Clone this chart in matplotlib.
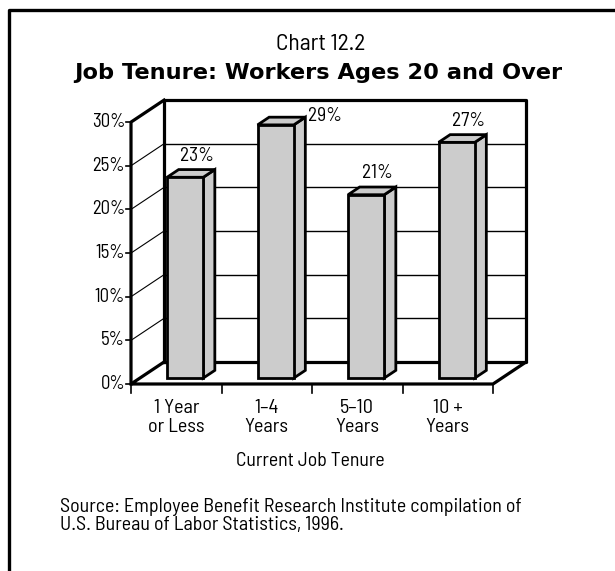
import matplotlib
matplotlib.use("Agg")
import matplotlib.pyplot as plt
from matplotlib.patches import Polygon
from matplotlib.lines import Line2D

# data
categories = ["1 Year\nor Less", "1\u20134\nYears", "5\u201310\nYears", "10 +\nYears"]
values = [23, 29, 21, 27]
yticks = [0, 5, 10, 15, 20, 25, 30]
ytick_labels = ["0%", "5%", "10%", "15%", "20%", "25%", "30%"]

plt.rcParams["font.family"] = ["Barlow Semi Condensed", "DejaVu Sans"]

W, H = 615, 571
fig = plt.figure(figsize=(W / 100, H / 100), dpi=100)

# axes box in pixels (x from 0..4.5 categories, y from -3..35 %)
x0, ux = 131, 90.5
y0, uy = 384, 8.73
xmin, xmax, ymin, ymax = -0.1, 4.5, -3, 35
left = x0 + xmin * ux
right = x0 + xmax * ux
top = y0 - ymax * uy
bot = y0 - ymin * uy
ax = fig.add_axes([left / W, 1 - bot / H, (right - left) / W, (bot - top) / H])
ax.set_xlim(xmin, xmax)
ax.set_ylim(ymin, ymax)
ax.axis("off")

DX, DY = 0.365, 2.52   # depth offset of the floor / walls
n = len(values)
ymax_wall = 30
thick = 2.3

# back wall gridlines and side wall lines
for v in yticks[1:-1]:
    ax.plot([DX, n + DX], [v + DY, v + DY], color="black", lw=1.0, zorder=1)
    ax.plot([0, DX], [v, v + DY], color="black", lw=0.8, zorder=1)

# back wall frame
ax.plot([DX, DX, n + DX, n + DX, DX], [DY, ymax_wall + DY, ymax_wall + DY, DY, DY],
        color="black", lw=thick, zorder=2, solid_capstyle="projecting")
# front y axis and top diagonal
ax.plot([DX, 0, 0], [ymax_wall + DY, ymax_wall, 0], color="black", lw=thick, zorder=2)
# floor
ax.plot([DX, 0, n, n + DX], [DY, 0, 0, DY], color="black", lw=thick, zorder=2)

# y ticks
for v, lab in zip(yticks, ytick_labels):
    ax.plot([-0.06, 0], [v, v], color="black", lw=1.2, zorder=2)
    ax.text(-0.065, v, lab, ha="right", va="center", fontsize=13.5)

# x ticks
for i in range(n + 1):
    ax.plot([i, i], [0, -1.0], color="black", lw=1.2, zorder=2)
for i, lab in enumerate(categories):
    ax.text(i + 0.5, -1.75, lab, ha="center", va="top", fontsize=14.5, linespacing=1.08)

# bars
f1, f2 = 0.27, 0.62
bw = 0.4
face = "#cccccc"
for i, v in enumerate(values):
    xl = i + 0.5 - bw / 2 + f1 * DX
    xr = xl + bw
    yb = f1 * DY
    yt = v + f1 * DY
    ddx = (f2 - f1) * DX
    ddy = (f2 - f1) * DY
    front = Polygon([(xl, yb), (xr, yb), (xr, yt), (xl, yt)], closed=True,
                    facecolor=face, edgecolor="black", lw=2.0, zorder=5)
    side = Polygon([(xr, yb), (xr + ddx, yb + ddy), (xr + ddx, yt + ddy), (xr, yt)], closed=True,
                   facecolor=face, edgecolor="black", lw=2.0, zorder=4)
    topf = Polygon([(xl, yt), (xr, yt), (xr + ddx, yt + ddy), (xl + ddx, yt + ddy)], closed=True,
                   facecolor=face, edgecolor="black", lw=2.0, zorder=4)
    for p in (side, topf, front):
        ax.add_patch(p)
    label = "%d%%" % v
    # the tallest bar gets its label beside the top, as in the original
    if v + f2 * DY + 1.6 > ymax_wall + DY - 1:
        ax.text(xr + ddx + 0.03, yt + ddy + 0.1, label, ha="left", va="center", fontsize=14)
    else:
        ax.text(i + 0.5 + f2 * DX, yt + ddy + 1.6, label, ha="center", va="center", fontsize=14)

# titles and notes
fig.text(321 / W, 1 - 44 / H, "Chart 12.2", ha="center", va="center", fontsize=17)
fig.text(318 / W, 1 - 73 / H, "Job Tenure: Workers Ages 20 and Over", ha="center", va="center",
         fontsize=16.2, fontweight="bold", family="DejaVu Sans")
fig.text(310 / W, 1 - 461 / H, "Current Job Tenure", ha="center", va="center", fontsize=14.3)
fig.text(60 / W, 1 - 516 / H,
         "Source: Employee Benefit Research Institute compilation of\nU.S. Bureau of Labor Statistics, 1996.",
         ha="left", va="center", fontsize=14.4, linespacing=1.0)

# page border (top and left)
fig.add_artist(Line2D([9 / W, 9 / W, 1], [0, 1 - 10 / H, 1 - 10 / H], color="black", lw=2.4,
                      transform=fig.transFigure))

fig.savefig("out.png", dpi=100, facecolor="white")
